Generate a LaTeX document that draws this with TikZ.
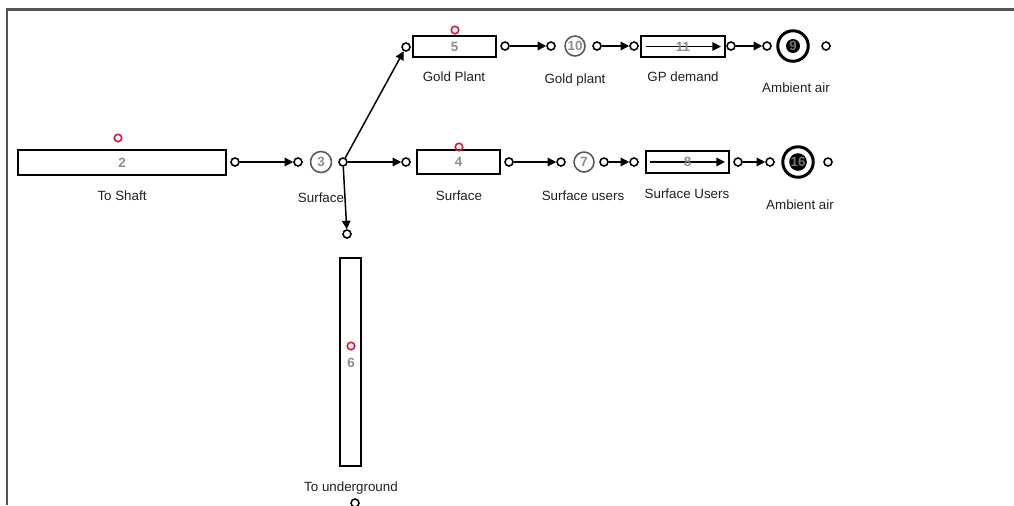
\documentclass[tikz,border=0pt]{standalone}
\usepackage{fontspec}
\setmainfont{Liberation Sans}
\usetikzlibrary{arrows.meta}
\definecolor{numGray}{RGB}{140,140,140}
\definecolor{markRed}{RGB}{220,20,60}
\definecolor{frameGray}{RGB}{85,85,85}
\definecolor{labelInk}{RGB}{30,30,40}

\begin{document}
\begin{tikzpicture}[
    x=0.02cm,
    y=-0.02cm,
    line width=0.85pt,
    font=\fontsize{7.6}{9}\selectfont,
    unitbox/.style={
        draw=black,
        line width=1.1pt,
        fill=white,
        inner sep=0pt
    },
    numtext/.style={
        text=numGray,
        font=\fontsize{7.6}{9}\selectfont\bfseries
    },
    port/.style={
        circle,
        draw=black,
        fill=white,
        line width=0.9pt,
        inner sep=0pt,
        minimum size=0.16cm
    },
    junction/.style={
        circle,
        draw=black!65,
        line width=0.9pt,
        inner sep=0pt,
        minimum size=0.42cm,
        text=numGray,
        font=\fontsize{7.6}{9}\selectfont\bfseries
    },
    ambient/.style={
        circle,
        draw=black,
        line width=1.7pt,
        minimum size=0.61cm,
        inner sep=0pt
    },
    ambientcore/.style={
        circle,
        fill=black,
        minimum size=0.28cm,
        inner sep=0pt,
        text=black!55,
        font=\fontsize{7.6}{9}\selectfont\bfseries
    },
    marker/.style={
        circle,
        draw=markRed,
        line width=0.9pt,
        inner sep=0pt,
        minimum size=0.15cm
    },
    flow/.style={
        draw=black,
        line width=0.85pt,
        -{Triangle[length=0.17cm,width=0.17cm]}
    },
    caption/.style={
        text=labelInk
    }
]

    \clip (0,0) rectangle (1014,505);

    % frame
    \draw[frameGray, line width=1.2pt] (7,505) -- (7,9.5) -- (1014,9.5);

    % Pipes / units
    \node[unitbox, minimum width=4.16cm, minimum height=0.5cm] (b2) at (122,162.5) {};
    \node[unitbox, minimum width=1.66cm, minimum height=0.42cm] (b5) at (454.5,46.5) {};
    \node[unitbox, minimum width=1.66cm, minimum height=0.48cm] (b4) at (458.5,162) {};
    \node[unitbox, minimum width=1.68cm, minimum height=0.42cm] (b11) at (683,46.5) {};
    \node[unitbox, minimum width=1.66cm, minimum height=0.44cm] (b8) at (687.5,162) {};
    \node[unitbox, minimum width=0.42cm, minimum height=4.16cm] (b6) at (350.5,362) {};

    % arrows inside the demand units
    \draw[flow, line width=0.75pt] ([xshift=0.12cm]b11.west) -- ([xshift=-0.1cm]b11.east);
    \draw[flow, line width=0.75pt] ([xshift=0.1cm]b8.west) -- ([xshift=-0.1cm]b8.east);

    \foreach \b in {2,5,4,11,8} {
        \node[numtext] at (b\b) {\b};
    }
    \node[numtext] at (351,363) {6};

    % junctions
    \node[junction] (n3) at (321,162) {3};
    \node[junction, minimum size=0.4cm] (n10) at (575,46) {10};
    \node[junction, minimum size=0.4cm] (n7) at (584,162) {7};

    % ambient air
    \node[ambient] (n9) at (793,46) {};
    \node[ambientcore] at (n9) {9};
    \node[ambient] (n16) at (798,162) {};
    \node[ambientcore, minimum size=0.3cm] at (n16) {16};

    % red markers
    \foreach \mx/\my in {118/138, 455/30, 459/147, 351/346} {
        \node[marker] at (\mx,\my) {};
    }

    % ports
    \foreach \name/\px/\py in {
        p2r/235/162, p3l/298/162, p3r/343/162,
        p5l/406/47, p5r/505/46, p10l/551/46, p10r/597/46,
        p11l/634/46, p11r/731/46, p9l/767/46, p9r/826/46,
        p4l/406/162, p4r/509/162, p7l/561/162, p7r/604/162,
        p8l/634/162, p8r/738/162, p16l/770/162, p16r/828/162,
        p6t/347/234, p6b/355/503} {
        \node[port] (\name) at (\px,\py) {};
    }

    % connectors
    \draw[flow] (p2r) -- (p3l);
    \draw[flow] (p3r) -- (p5l);
    \draw[flow] (p3r) -- (p4l);
    \draw[flow] (p3r) -- (p6t);
    \draw[flow] (p5r) -- (p10l);
    \draw[flow] (p10r) -- (p11l);
    \draw[flow] (p11r) -- (p9l);
    \draw[flow] (p4r) -- (p7l);
    \draw[flow] (p7r) -- (p8l);
    \draw[flow] (p8r) -- (p16l);

    % captions
    \node[caption] (c2) at (122,196) {To Shaft};
    \node[caption] (c3) at (321,198) {Surface};
    \node[caption] (c5) at (454,77) {Gold Plant};
    \node[caption] (c10) at (575,80) {Gold plant};
    \node[caption] (c11) at (683,77) {GP demand};
    \node[caption] (c9) at (796,88) {Ambient air};
    \node[caption] (c4) at (459,196) {Surface};
    \node[caption] (c7) at (583,196) {Surface users};
    \node[caption] (c8) at (687,194) {Surface Users};
    \node[caption] (c16) at (800,205) {Ambient air};
    \node[caption] (c6) at (351,488) {To underground};

\end{tikzpicture}
\end{document}
